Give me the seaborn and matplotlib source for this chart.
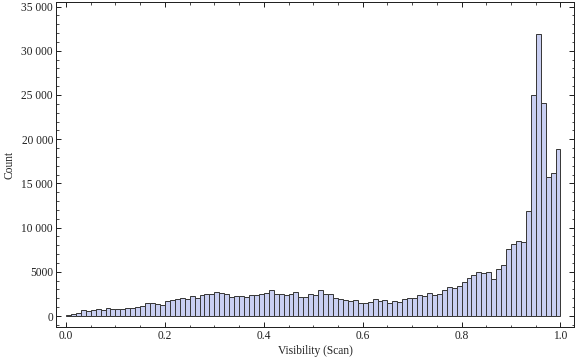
import matplotlib
matplotlib.use("Agg")
import matplotlib.pyplot as plt
from matplotlib.ticker import MultipleLocator, FixedLocator
import numpy as np
import seaborn as sns

# histogram counts, 100 bins of width 0.01 on [0, 1]
bin_edges = [round(i * 0.01, 2) for i in range(101)]
counts = [
    150, 230, 340, 640, 530, 640, 750, 640, 870, 750,
    750, 750, 870, 870, 980, 1090, 1430, 1430, 1320, 1200,
    1660, 1770, 1880, 2000, 1880, 2220, 2000, 2340, 2450, 2450,
    2670, 2560, 2450, 2110, 2220, 2220, 2110, 2340, 2340, 2450,
    2560, 2900, 2450, 2450, 2340, 2450, 2670, 2110, 2110, 2450,
    2340, 2900, 2450, 2450, 2000, 1880, 1770, 1660, 1770, 1430,
    1430, 1545, 1880, 1660, 1770, 1430, 1660, 1545, 1880, 2000,
    2000, 2335, 2220, 2560, 2335, 2450, 2900, 3240, 3130, 3350,
    3800, 4260, 4600, 4930, 4820, 4930, 4140, 5270, 5725, 7530,
    8100, 8440, 8320, 11830, 25050, 31950, 24100, 15750, 16120, 18840,
]
bin_centers = [e + 0.005 for e in bin_edges[:-1]]

x_ticks = [0.0, 0.2, 0.4, 0.6, 0.8, 1.0]
x_tick_labels = ["0.0", "0.2", "0.4", "0.6", "0.8", "1.0"]
y_ticks = [0, 5000, 10000, 15000, 20000, 25000, 30000, 35000]
y_tick_labels = ["0", "5000", "10 000", "15 000", "20 000", "25 000", "30 000", "35 000"]

sns.set_style("ticks")
plt.rcParams["font.family"] = ["Liberation Serif", "DejaVu Serif"]

fig = plt.figure(figsize=(576 / 72, 362 / 72), dpi=72)
ax = fig.add_axes([56 / 576, 35 / 362, 518 / 576, 325 / 362])

sns.histplot(
    x=bin_centers, weights=counts, bins=bin_edges, ax=ax,
    color="#c9cff2", alpha=1, edgecolor="#3a3a3a", linewidth=1,
)

ax.set_xlim(-0.0202, 1.0273)
ax.set_ylim(-1244, 35520)

ax.xaxis.set_major_locator(FixedLocator(x_ticks))
ax.set_xticklabels(x_tick_labels)
ax.xaxis.set_minor_locator(MultipleLocator(0.05))
ax.yaxis.set_major_locator(FixedLocator(y_ticks))
ax.set_yticklabels(y_tick_labels)
ax.yaxis.set_minor_locator(MultipleLocator(1000))

for side in ["top", "right", "left", "bottom"]:
    ax.spines[side].set_visible(True)
    ax.spines[side].set_color("#222222")
    ax.spines[side].set_linewidth(1)

ax.tick_params(which="both", direction="in", top=True, right=True, color="#222222",
               labelsize=11.5, labelcolor="#222222", pad=3)
ax.tick_params(which="major", length=5, width=1)
ax.tick_params(which="minor", length=2.5, width=0.8)

ax.set_xlabel("Visibility (Scan)", fontsize=11.5, color="#222222", labelpad=3)
ax.set_ylabel("Count", fontsize=11.5, color="#222222", labelpad=6)

fig.savefig("out.png", dpi=72)
